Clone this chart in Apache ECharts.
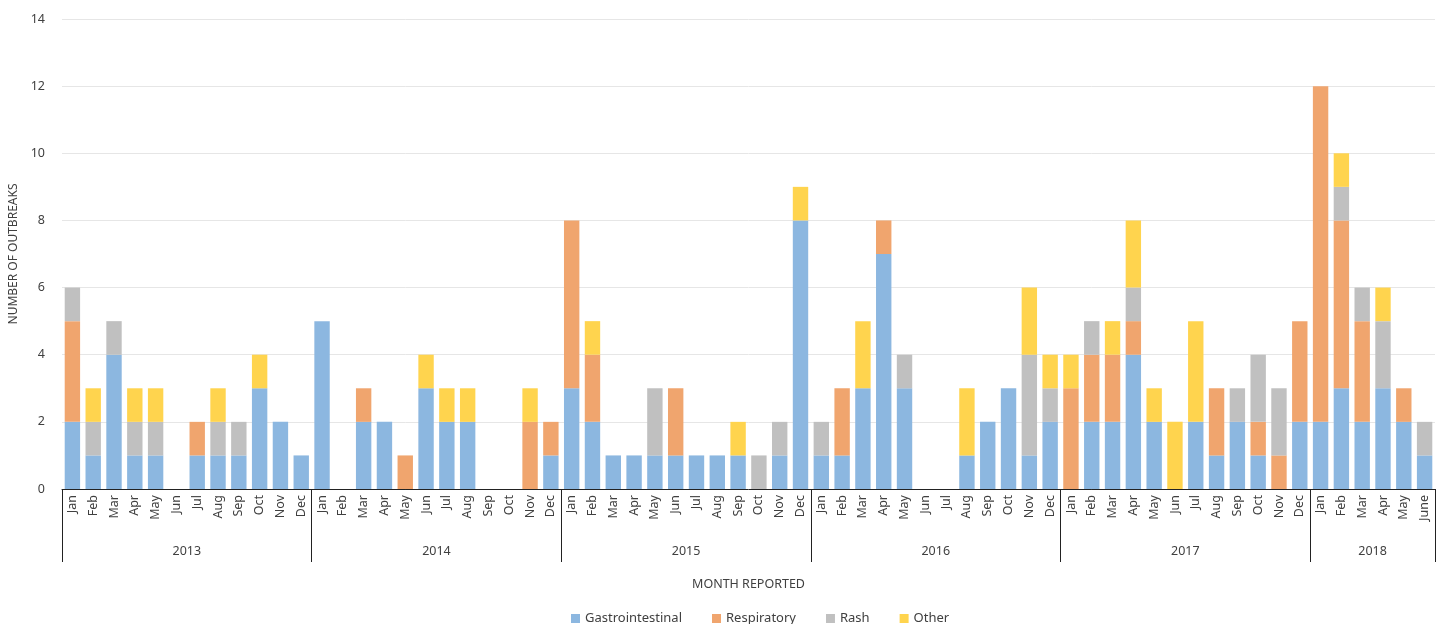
<!DOCTYPE html>
<html>
<head>
<meta charset="utf-8">
<script src="https://cdn.jsdelivr.net/npm/echarts@6/dist/echarts.min.js"></script>
<style>
  html, body { margin: 0; padding: 0; background: #fff; }
  #chart { width: 1440px; height: 624px; }
</style>
</head>
<body>
<div id="chart"></div>
<script>
// months reported, Jan 2013 - June 2018
const years = ["2013", "2014", "2015", "2016", "2017", "2018"];
const monthNames = ["Jan", "Feb", "Mar", "Apr", "May", "Jun", "Jul", "Aug", "Sep", "Oct", "Nov", "Dec"];
const months = [];
years.forEach((y) => {
  monthNames.forEach((m) => months.push(m));
});
months.length = 66;
months[65] = "June";

// outbreaks per month, by type
const gastro = [
  2, 1, 4, 1, 1, 0, 1, 1, 1, 3, 2, 1,
  5, 0, 2, 2, 0, 3, 2, 2, 0, 0, 0, 1,
  3, 2, 1, 1, 1, 1, 1, 1, 1, 0, 1, 8,
  1, 1, 3, 7, 3, 0, 0, 1, 2, 3, 1, 2,
  0, 2, 2, 4, 2, 0, 2, 1, 2, 1, 0, 2,
  2, 3, 2, 3, 2, 1
];
const respiratory = [
  3, 0, 0, 0, 0, 0, 1, 0, 0, 0, 0, 0,
  0, 0, 1, 0, 1, 0, 0, 0, 0, 0, 2, 1,
  5, 2, 0, 0, 0, 2, 0, 0, 0, 0, 0, 0,
  0, 2, 0, 1, 0, 0, 0, 0, 0, 0, 0, 0,
  3, 2, 2, 1, 0, 0, 0, 2, 0, 1, 1, 3,
  10, 5, 3, 0, 1, 0
];
const rash = [
  1, 1, 1, 1, 1, 0, 0, 1, 1, 0, 0, 0,
  0, 0, 0, 0, 0, 0, 0, 0, 0, 0, 0, 0,
  0, 0, 0, 0, 2, 0, 0, 0, 0, 1, 1, 0,
  1, 0, 0, 0, 1, 0, 0, 0, 0, 0, 3, 1,
  0, 1, 0, 1, 0, 0, 0, 0, 1, 2, 2, 0,
  0, 1, 1, 2, 0, 1
];
const other = [
  0, 1, 0, 1, 1, 0, 0, 1, 0, 1, 0, 0,
  0, 0, 0, 0, 0, 1, 1, 1, 0, 0, 1, 0,
  0, 1, 0, 0, 0, 0, 0, 0, 1, 0, 0, 1,
  0, 0, 2, 0, 0, 0, 0, 2, 0, 0, 2, 1,
  1, 0, 1, 2, 1, 2, 3, 0, 0, 0, 0, 0,
  0, 1, 0, 1, 0, 0
];

// where each year label sits on the 0..66 month scale
const yearCenters = { 6: "2013", 18: "2014", 30: "2015", 42: "2016", 54: "2017", 63: "2018" };

const textColor = "#404040";
const font = "'Noto Sans', 'Open Sans', sans-serif";

const myChart = echarts.init(document.getElementById("chart"));

function bar(name, data, color) {
  return {
    name: name,
    type: "bar",
    stack: "total",
    data: data.map((v) => (v === 0 ? null : v)),
    barCategoryGap: "26%",
    itemStyle: { color: color },
    emphasis: { disabled: true },
  };
}

const config = {
  animation: false,
  textStyle: { fontFamily: font },
  grid: {
    left: 62,
    right: 5,
    top: 19,
    bottom: 135,
    containLabel: false,
    outerBoundsMode: "none",
  },
  legend: {
    top: 607,
    left: 566,
    itemWidth: 9,
    itemHeight: 9,
    itemGap: 30,
    icon: "rect",
    textStyle: { color: textColor, fontSize: 13, fontFamily: font },
    data: ["Gastrointestinal", "Respiratory", "Rash", "Other"],
  },
  xAxis: [
    {
      type: "category",
      data: months,
      position: "bottom",
      axisLine: { show: true, lineStyle: { color: "#222", width: 1 } },
      axisTick: {
        show: true,
        length: 73,
        interval: (index) => index % 12 === 0,
        lineStyle: { color: "#222", width: 1 },
      },
      axisLabel: {
        interval: 0,
        rotate: 90,
        margin: 6,
        color: textColor,
        fontSize: 12.5,
        fontFamily: font,
      },
    },
    {
      type: "value",
      position: "bottom",
      min: 0,
      max: 66,
      interval: 3,
      axisLine: { show: false },
      axisTick: { show: false },
      splitLine: { show: false },
      axisLabel: {
        margin: 56,
        color: textColor,
        fontSize: 12.5,
        fontFamily: font,
        showMinLabel: true,
        showMaxLabel: true,
        formatter: (v) => yearCenters[v] || "",
      },
      name: "MONTH REPORTED",
      nameLocation: "middle",
      nameGap: 89,
      nameTextStyle: { color: textColor, fontSize: 12.5, fontFamily: font },
    },
  ],
  yAxis: {
    type: "value",
    min: 0,
    max: 14,
    interval: 2,
    axisLine: { show: false },
    axisTick: { show: false },
    splitLine: { lineStyle: { color: "#e6e6e6", width: 1 } },
    axisLabel: { margin: 17, color: textColor, fontSize: 12.5, fontFamily: font },
    name: "NUMBER OF OUTBREAKS",
    nameLocation: "middle",
    nameGap: 39,
    nameTextStyle: { color: textColor, fontSize: 12, fontFamily: font },
  },
  series: [
    bar("Gastrointestinal", gastro, "#8cb7e0"),
    bar("Respiratory", respiratory, "#f0a56e"),
    bar("Rash", rash, "#c0c0c0"),
    bar("Other", other, "#ffd44e"),
  ],
};

myChart.setOption(config);
</script>
</body>
</html>
